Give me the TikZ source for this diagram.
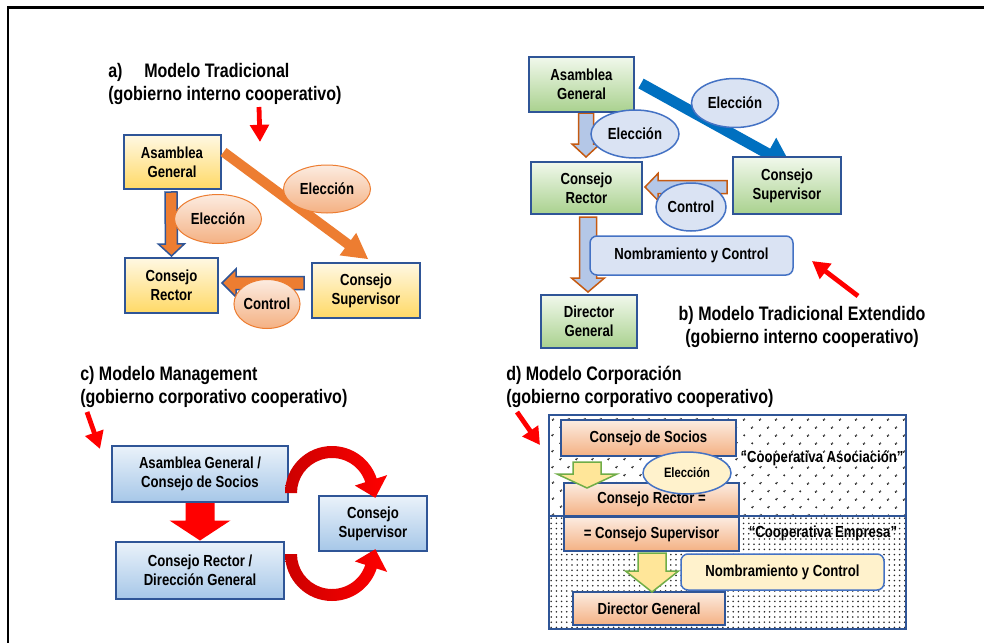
\documentclass[tikz,border=0pt]{standalone}
\usepackage{fontspec}
\setmainfont{Liberation Sans}[FakeStretch=0.82]
\usetikzlibrary{calc,shapes.geometric,patterns.meta,arrows.meta,backgrounds}

\newlength{\du}
\setlength{\du}{0.25mm}

\definecolor{boxblue}{rgb}{0.184, 0.333, 0.592}
\definecolor{lineblue}{rgb}{0.267, 0.447, 0.769}
\definecolor{yeltop}{rgb}{1.000, 0.973, 0.890}
\definecolor{yelbot}{rgb}{1.000, 0.851, 0.400}
\definecolor{corange}{rgb}{0.929, 0.490, 0.192}
\definecolor{peatop}{rgb}{0.988, 0.925, 0.882}
\definecolor{peabot}{rgb}{0.957, 0.694, 0.514}
\definecolor{grntop}{rgb}{0.945, 0.973, 0.925}
\definecolor{grnbot}{rgb}{0.663, 0.820, 0.557}
\definecolor{cblue}{rgb}{0.000, 0.439, 0.753}
\definecolor{paleblue}{rgb}{0.855, 0.890, 0.953}
\definecolor{arrblue}{rgb}{0.706, 0.780, 0.906}
\definecolor{rust}{rgb}{0.773, 0.353, 0.067}
\definecolor{blutop}{rgb}{0.918, 0.949, 0.980}
\definecolor{blubot}{rgb}{0.651, 0.780, 0.910}
\definecolor{cred}{rgb}{1.000, 0.000, 0.000}
\definecolor{cdred}{rgb}{0.800, 0.000, 0.000}
\definecolor{dyellow}{rgb}{1.000, 0.902, 0.600}
\definecolor{dgreen}{rgb}{0.439, 0.678, 0.278}
\definecolor{cream}{rgb}{1.000, 0.949, 0.800}

\newcommand{\panelfont}{\fontsize{13.9}{16.4}\selectfont\bfseries}
\newcommand{\boxfont}{\fontsize{11.4}{13.5}\selectfont\bfseries}
\newcommand{\ovalfont}{\fontsize{9.7}{11.5}\selectfont\bfseries}

% block arrow: [style]{from}{to}{half shaft}{half head}{head length}
\newcommand{\blockarrow}[6][]{%
  \coordinate (bahead) at ($(#3)!#6!(#2)$);
  \path[#1] ($(#2)!#4!90:(#3)$) -- ($(bahead)!#4!90:(#3)$) -- ($(bahead)!#5!90:(#3)$) -- (#3)
    -- ($(bahead)!#5!-90:(#3)$) -- ($(bahead)!#4!-90:(#3)$) -- ($(#2)!#4!-90:(#3)$) -- cycle;}

\tikzset{
  paneltitle/.style={inner sep=0pt, font=\panelfont},
  ybox/.style={rectangle, draw=boxblue, line width=2\du, top color=yeltop, bottom color=yelbot,
    align=center, inner sep=0pt, font=\boxfont},
  gbox/.style={ybox, top color=grntop, bottom color=grnbot},
  bbox/.style={ybox, top color=blutop, bottom color=blubot},
  pbox/.style={ybox, top color=peatop, bottom color=peabot},
  pellipse/.style={ellipse, draw=corange, line width=1\du, top color=peatop, bottom color=peabot,
    inner sep=0pt, font=\boxfont},
  bellipse/.style={ellipse, draw=lineblue, line width=1.5\du, fill=paleblue, inner sep=0pt, font=\boxfont},
  tag/.style={rectangle, rounded corners=7\du, draw=lineblue, line width=1.5\du, fill=paleblue,
    inner sep=0pt, font=\boxfont},
  redarrow/.style={draw=cred, line width=1.2mm, -{Triangle[length=4.3mm,width=4.6mm]}},
  curvearrow/.style={left color=cdred, middle color=cred, right color=cred},
}

\begin{document}
\begin{tikzpicture}
\pgftransformyscale{-1.000000}
\useasboundingbox (0\du,0\du) rectangle (984\du,643\du);
\begin{pgfonlayer}{background}
\fill[white] (0\du,0\du) rectangle (984\du,643\du);
\end{pgfonlayer}

\draw[line width=2.5\du] (8\du,643\du) -- (8\du,7.5\du) -- (984\du,7.5\du);

% a) Modelo Tradicional
\node[paneltitle, anchor=base west] (aT0) at (108\du,77\du) {a)};
\node[paneltitle, anchor=base west] (aT1) at (144\du,77\du) {Modelo Tradicional};
\node[paneltitle, anchor=base west] (aT2) at (108\du,100\du) {(gobierno interno cooperativo)};
\coordinate (aR1) at (259\du,107\du);
\coordinate (aR2) at (260\du,142\du);
\draw[redarrow] (aR1) -- (aR2);

\node[ybox, minimum width=97\du, minimum height=54\du] (aAG) at (172\du,162\du) {Asamblea\\General};
\node[ybox, minimum width=93\du, minimum height=55\du] (aCR) at (171.5\du,285.5\du) {Consejo\\Rector};
\node[ybox, minimum width=108\du, minimum height=55\du] (aCS) at (366\du,290.5\du) {Consejo\\Supervisor};

\coordinate (aD1) at ($(aAG.east)+(2\du,-10\du)$);
\coordinate (aD2) at ($(aCS.north)+(2\du,-3\du)$);
\blockarrow[fill=corange]{aD1}{aD2}{5\du}{14\du}{25\du}
\coordinate (aV1) at ($(aAG.south)+(-1\du,2\du)$);
\coordinate (aV2) at ($(aCR.north)+(0\du,-1\du)$);
\blockarrow[fill=corange, draw=boxblue, line width=1.5\du]{aV1}{aV2}{6\du}{13\du}{12\du}
\coordinate (aC1) at ($(aCS.west)+(-7\du,-7.5\du)$);
\coordinate (aC2) at ($(aCR.east)+(3\du,-2.5\du)$);
\blockarrow[fill=corange, draw=boxblue, line width=1.5\du]{aC1}{aC2}{6.5\du}{14\du}{14\du}

\node[pellipse, minimum width=87\du, minimum height=48\du] (aE1) at (327\du,189\du) {Elección};
\node[pellipse, minimum width=87\du, minimum height=49\du] (aE2) at (218\du,219\du) {Elección};
\node[pellipse, minimum width=65\du, minimum height=49\du] (aCo) at (267\du,304\du) {Control};

% b) Modelo Tradicional Extendido
\node[gbox, minimum width=105\du, minimum height=55\du] (bAG) at (581.5\du,84.5\du) {Asamblea\\General};
\node[gbox, minimum width=111\du, minimum height=52\du] (bCR) at (586.5\du,188\du) {Consejo\\Rector};
\node[gbox, minimum width=108\du, minimum height=57\du] (bCS) at (787\du,185.5\du) {Consejo\\Supervisor};
\node[gbox, minimum width=96\du, minimum height=53\du] (bDG) at (589\du,321.5\du) {Director\\General};

\begin{pgfonlayer}{background}
\coordinate (bD1) at ($(bAG.east)+(6\du,-1\du)$);
\coordinate (bD2) at ($(bCS.north)+(5\du,11\du)$);
\blockarrow[fill=cblue]{bD1}{bD2}{5.5\du}{18\du}{28\du}
\coordinate (bV1) at ($(bAG.south)+(4.5\du,0\du)$);
\coordinate (bV2) at ($(bCR.north)+(-0.5\du,-4\du)$);
\blockarrow[fill=arrblue, draw=rust, line width=1.5\du]{bV1}{bV2}{7.5\du}{14\du}{13\du}
\coordinate (bW1) at ($(bCR.south)+(1.5\du,2\du)$);
\coordinate (bW2) at ($(bDG.north)+(-1\du,-2\du)$);
\blockarrow[fill=arrblue, draw=rust, line width=1.5\du]{bW1}{bW2}{8.5\du}{16.5\du}{14\du}
\coordinate (bC1) at ($(bCS.west)+(-5\du,1.5\du)$);
\coordinate (bC2) at ($(bCR.east)+(2\du,-1\du)$);
\blockarrow[fill=arrblue, draw=rust, line width=1.5\du]{bC1}{bC2}{6.5\du}{13.5\du}{13\du}
\end{pgfonlayer}

\node[bellipse, minimum width=87\du, minimum height=49\du] (bE1) at (735\du,103\du) {Elección};
\node[bellipse, minimum width=88\du, minimum height=48\du] (bE2) at (635\du,134\du) {Elección};
\node[bellipse, minimum width=70\du, minimum height=48\du] (bCo) at (691\du,207\du) {Control};
\node[tag, minimum width=203\du, minimum height=39\du] (bNC) at (691.5\du,255.5\du) {Nombramiento y Control};

\coordinate (bR1) at (858\du,296\du);
\coordinate (bR2) at (812\du,261\du);
\draw[redarrow] (bR1) -- (bR2);
\node[paneltitle, anchor=base] (bT1) at (802\du,320\du) {b) Modelo Tradicional Extendido};
\node[paneltitle, anchor=base] (bT2) at (802\du,343\du) {(gobierno interno cooperativo)};

% c) Modelo Management
\node[paneltitle, anchor=base west] (cT1) at (80\du,380\du) {c) Modelo Management};
\node[paneltitle, anchor=base west] (cT2) at (80\du,403\du) {(gobierno corporativo cooperativo)};
\coordinate (cR1) at (87\du,412\du);
\coordinate (cR2) at (100\du,449\du);
\draw[redarrow] (cR1) -- (cR2);

\node[bbox, minimum width=176\du, minimum height=56\du] (cAG) at (200\du,474\du) {Asamblea General /\\Consejo de Socios};
\node[bbox, minimum width=168\du, minimum height=57\du] (cCR) at (200\du,570.5\du) {Consejo Rector /\\Dirección General};
\node[bbox, minimum width=108\du, minimum height=55\du] (cCS) at (373\du,523.5\du) {Consejo\\Supervisor};

\coordinate (cV1) at (cAG.south);
\coordinate (cV2) at ($(cCR.north)+(0\du,-0.5\du)$);
\blockarrow[fill=cred]{cV1}{cV2}{14.5\du}{30.5\du}{20\du}

\coordinate (cO1) at ($(cAG.east)+(43\du,19\du)$);
\shade[curvearrow] ($(cO1)+(180:47\du)$) arc[start angle=180, end angle=342, radius=47\du]
  -- ($(cO1)+(342:58\du)$) -- ($(cO1)+(342:41\du)+(76:18\du)$) -- ($(cO1)+(342:24\du)$)
  -- ($(cO1)+(342:35\du)$) arc[start angle=342, end angle=180, radius=35\du] -- cycle;
\coordinate (cO2) at ($(cCR.east)+(47\du,-16.5\du)$);
\shade[curvearrow] ($(cO2)+(180:47\du)$) arc[start angle=180, end angle=18, radius=47\du]
  -- ($(cO2)+(18:58\du)$) -- ($(cO2)+(18:41\du)+(-76:18\du)$) -- ($(cO2)+(18:24\du)$)
  -- ($(cO2)+(18:35\du)$) arc[start angle=18, end angle=180, radius=35\du] -- cycle;

% d) Modelo Corporacion
\node[paneltitle, anchor=base west] (dT1) at (506\du,380\du) {d) Modelo Corporación};
\node[paneltitle, anchor=base west] (dT2) at (506\du,403\du) {(gobierno corporativo cooperativo)};
\coordinate (dR1) at (517\du,412\du);
\coordinate (dR2) at (540\du,445\du);
\draw[redarrow] (dR1) -- (dR2);

\path[pattern={Dots[radius=0.3mm,distance=2.8mm,angle=45]}, pattern color=black] (549\du,415\du) rectangle (906\du,516\du);
\path[pattern={Dots[radius=0.22mm,distance=1.3mm]}, pattern color=black!85] (549\du,516\du) rectangle (906\du,629\du);
\draw[boxblue, line width=2\du] (549\du,415\du) rectangle (906\du,629\du);
\draw[boxblue, line width=2\du] (549\du,516\du) -- (906\du,516\du);

\node[font=\boxfont, anchor=base] (dQ1) at (822\du,462\du) {“Cooperativa Asociación”};
\node[font=\boxfont, anchor=base] (dQ2) at (823\du,537\du) {“Cooperativa Empresa”};

\node[pbox, minimum width=175\du, minimum height=36\du] (dCS) at (648.5\du,438\du) {Consejo de Socios};
\node[pbox, minimum width=175\du, minimum height=33\du] (dCR) at (651.5\du,499.5\du) {Consejo Rector =};
\node[pbox, minimum width=175\du, minimum height=34\du] (dCSu) at (651.5\du,534\du) {= Consejo Supervisor};
\node[pbox, minimum width=152\du, minimum height=33\du] (dDG) at (649\du,608.5\du) {Director General};

\coordinate (dA1) at ($(dCS.south west)+(27\du,5\du)$);
\coordinate (dA2) at ($(dCR.north west)+(24\du,6\du)$);
\blockarrow[fill=dyellow, draw=dgreen, line width=1.5\du]{dA1}{dA2}{14\du}{30\du}{14\du}
\coordinate (dB1) at ($(dCSu.south)+(0.5\du,1\du)$);
\coordinate (dB2) at ($(dDG.north)+(3\du,1\du)$);
\blockarrow[fill=dyellow, draw=dgreen, line width=1.5\du]{dB1}{dB2}{14\du}{26.5\du}{21\du}

\node[tag, fill=cream, minimum width=203\du, minimum height=36\du] (dNC) at (782.5\du,572\du) {Nombramiento y Control};
\node[bellipse, fill=cream, font=\ovalfont, minimum width=88\du, minimum height=42\du] (dE) at (687\du,473\du) {Elección};
\end{tikzpicture}
\end{document}
